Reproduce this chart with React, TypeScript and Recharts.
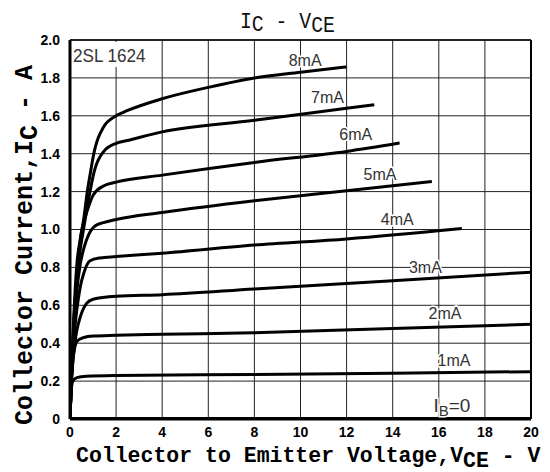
import React from "react";
import {
  ComposedChart,
  Line,
  Scatter,
  XAxis,
  YAxis,
  CartesianGrid,
  ReferenceLine,
} from "recharts";

// Collector-emitter voltage (V) / collector current (A) pairs for each base current
const curve0mA: [number, number][] = [[0, 0.003], [20, 0.003]];
const curve1mA: [number, number][] = [[0, 0], [0.04, 0.13], [0.12, 0.2], [0.3, 0.218], [0.7, 0.226], [2, 0.23], [8, 0.235], [14, 0.242], [20, 0.25]];
const curve2mA: [number, number][] = [[0, 0], [0.05, 0.16], [0.12, 0.3], [0.3, 0.41], [0.6, 0.43], [1, 0.438], [2, 0.442], [4, 0.447], [8, 0.455], [14, 0.478], [20, 0.5]];
const curve3mA: [number, number][] = [[0, 0], [0.05, 0.17], [0.15, 0.34], [0.3, 0.47], [0.45, 0.54], [0.72, 0.61], [1, 0.632], [2, 0.648], [4, 0.656], [8, 0.686], [14, 0.73], [20, 0.775]];
const curve4mA: [number, number][] = [[0, 0], [0.05, 0.18], [0.15, 0.4], [0.3, 0.58], [0.45, 0.7], [0.6, 0.77], [0.87, 0.835], [1.3, 0.85], [2, 0.857], [4, 0.875], [8, 0.918], [12, 0.95], [17, 1.005]];
const curve5mA: [number, number][] = [[0, 0], [0.05, 0.18], [0.15, 0.42], [0.3, 0.68], [0.45, 0.82], [0.6, 0.9], [0.8, 0.97], [1.1, 1.02], [1.45, 1.036], [2, 1.053], [4, 1.09], [8, 1.152], [12, 1.205], [15.7, 1.253]];
const curve6mA: [number, number][] = [[0, 0], [0.05, 0.18], [0.15, 0.45], [0.3, 0.75], [0.45, 0.95], [0.6, 1.04], [0.75, 1.1], [1, 1.18], [1.45, 1.23], [2, 1.25], [4, 1.287], [8, 1.354], [12, 1.412], [14.3, 1.456]];
const curve7mA: [number, number][] = [[0, 0], [0.05, 0.18], [0.15, 0.48], [0.3, 0.75], [0.45, 0.9], [0.6, 1.01], [0.75, 1.12], [0.9, 1.22], [1, 1.28], [1.45, 1.41], [2, 1.455], [2.5, 1.47], [4, 1.515], [8, 1.576], [12, 1.64], [13.2, 1.658]];
const curve8mA: [number, number][] = [[0, 0], [0.05, 0.18], [0.15, 0.5], [0.3, 0.82], [0.45, 0.95], [0.6, 1.06], [0.75, 1.2], [0.9, 1.31], [1, 1.38], [1.45, 1.54], [2, 1.6], [2.5, 1.628], [4, 1.69], [6, 1.75], [8, 1.8], [10, 1.83], [12, 1.858]];

const curves = [
  { key: "ib0", pts: curve0mA },
  { key: "ib1", pts: curve1mA },
  { key: "ib2", pts: curve2mA },
  { key: "ib3", pts: curve3mA },
  { key: "ib4", pts: curve4mA },
  { key: "ib5", pts: curve5mA },
  { key: "ib6", pts: curve6mA },
  { key: "ib7", pts: curve7mA },
  { key: "ib8", pts: curve8mA },
];

// Curve annotations (text, V, I)
const labelTexts = ["8mA", "7mA", "6mA", "5mA", "4mA", "3mA", "2mA", "1mA", "IB=0"];
const labelV = [10.2, 11.17, 12.4, 13.45, 14.2, 15.42, 16.27, 16.66, 16.57];
const labelI = [1.894, 1.697, 1.499, 1.29, 1.053, 0.8, 0.557, 0.309, 0.074];

const xTicks = [0, 2, 4, 6, 8, 10, 12, 14, 16, 18, 20];
const yTicks = [0, 0.2, 0.4, 0.6, 0.8, 1.0, 1.2, 1.4, 1.6, 1.8, 2.0];

const curveLabels = labelTexts.map((t, k) => ({ t, v: labelV[k], i: labelI[k] }));

const mono = "'Liberation Mono', 'DejaVu Sans Mono', monospace";
const sans = "'Liberation Sans', Arial, sans-serif";

const renderLabel = (p: any) => {
  const t: string = p.payload.t;
  const common = {
    fontFamily: sans,
    fill: "#333",
    stroke: "#fff",
    strokeWidth: 3,
    paintOrder: "stroke" as any,
    textAnchor: "middle" as any,
    dominantBaseline: "central" as any,
  };
  if (t === "IB=0") {
    return (
      <text x={p.cx} y={p.cy} fontSize={19} {...common}>
        <tspan>I</tspan>
        <tspan dy={5} fontSize={15}>B</tspan>
        <tspan dy={-5}>=0</tspan>
      </text>
    );
  }
  return (
    <text x={p.cx} y={p.cy} fontSize={16} {...common}>
      {t}
    </text>
  );
};

export default function App() {
  return (
    <div style={{ position: "absolute", left: 0, top: 0, width: 550, height: 472, background: "#fff" }}>
      <ComposedChart
        width={550}
        height={472}
        margin={{ top: 40, right: 19, bottom: 23, left: 10 }}
      >
        <CartesianGrid stroke="#222" strokeWidth={1} horizontalValues={yTicks} verticalValues={xTicks} />
        <XAxis
          type="number"
          dataKey="v"
          domain={[0, 20]}
          ticks={xTicks}
          allowDataOverflow
          height={30}
          tickLine={false}
          axisLine={{ stroke: "#000", strokeWidth: 3 }}
          tick={{ fill: "#000", fontFamily: sans, fontWeight: "bold", fontSize: 14 }}
        />
        <YAxis
          type="number"
          domain={[0, 2]}
          ticks={yTicks}
          allowDataOverflow
          width={60}
          tickLine={false}
          tickMargin={4}
          axisLine={{ stroke: "#000", strokeWidth: 3 }}
          tickFormatter={(v: number) => (v === 0 ? "0" : v.toFixed(1))}
          tick={{ fill: "#000", fontFamily: sans, fontWeight: "bold", fontSize: 14 }}
        />
        <ReferenceLine x={20} stroke="#000" strokeWidth={2} />
        <ReferenceLine y={2} stroke="#000" strokeWidth={1.5} />
        {curves.map((c) => (
          <Line
            key={c.key}
            data={c.pts.map(([v, i]) => ({ v, [c.key]: i }))}
            dataKey={c.key}
            type="monotone"
            stroke="#000"
            strokeWidth={3}
            dot={false}
            activeDot={false}
            isAnimationActive={false}
          />
        ))}
        <Scatter data={curveLabels} dataKey="i" shape={renderLabel} isAnimationActive={false} />
      </ComposedChart>
      <svg width={550} height={472} style={{ position: "absolute", left: 0, top: 0, pointerEvents: "none" }}>
        <g transform="translate(240 28) scale(0.9 1)">
          <text x={0} y={0} fontFamily={mono} fontSize={22} fill="#111">
            <tspan>I</tspan>
            <tspan dy={3}>C</tspan>
            <tspan dy={-3}> - V</tspan>
            <tspan dy={4}>CE</tspan>
          </text>
        </g>
        <rect x={72} y={42} width={84} height={25} fill="#fff" />
        <g transform="translate(73 62) scale(0.9 1)">
          <text x={0} y={0} fontFamily={sans} fontSize={19} fill="#333">
            2SL 1624
          </text>
        </g>
        <text x={76} y={462} fontFamily={mono} fontWeight="bold" fontSize={21.5} fill="#000">
          <tspan>Collector to Emitter Voltage,V</tspan>
          <tspan dy={5}>CE</tspan>
          <tspan dy={-5}> - V</tspan>
        </text>
        <text
          x={32}
          y={245}
          transform="rotate(-90 32 245)"
          fontFamily={mono}
          fontWeight="bold"
          fontSize={25}
          fill="#000"
          textAnchor="middle"
        >
          <tspan>Collector Current,I</tspan>
          <tspan dy={5}>C</tspan>
          <tspan dy={-5}> - A</tspan>
        </text>
      </svg>
    </div>
  );
}
